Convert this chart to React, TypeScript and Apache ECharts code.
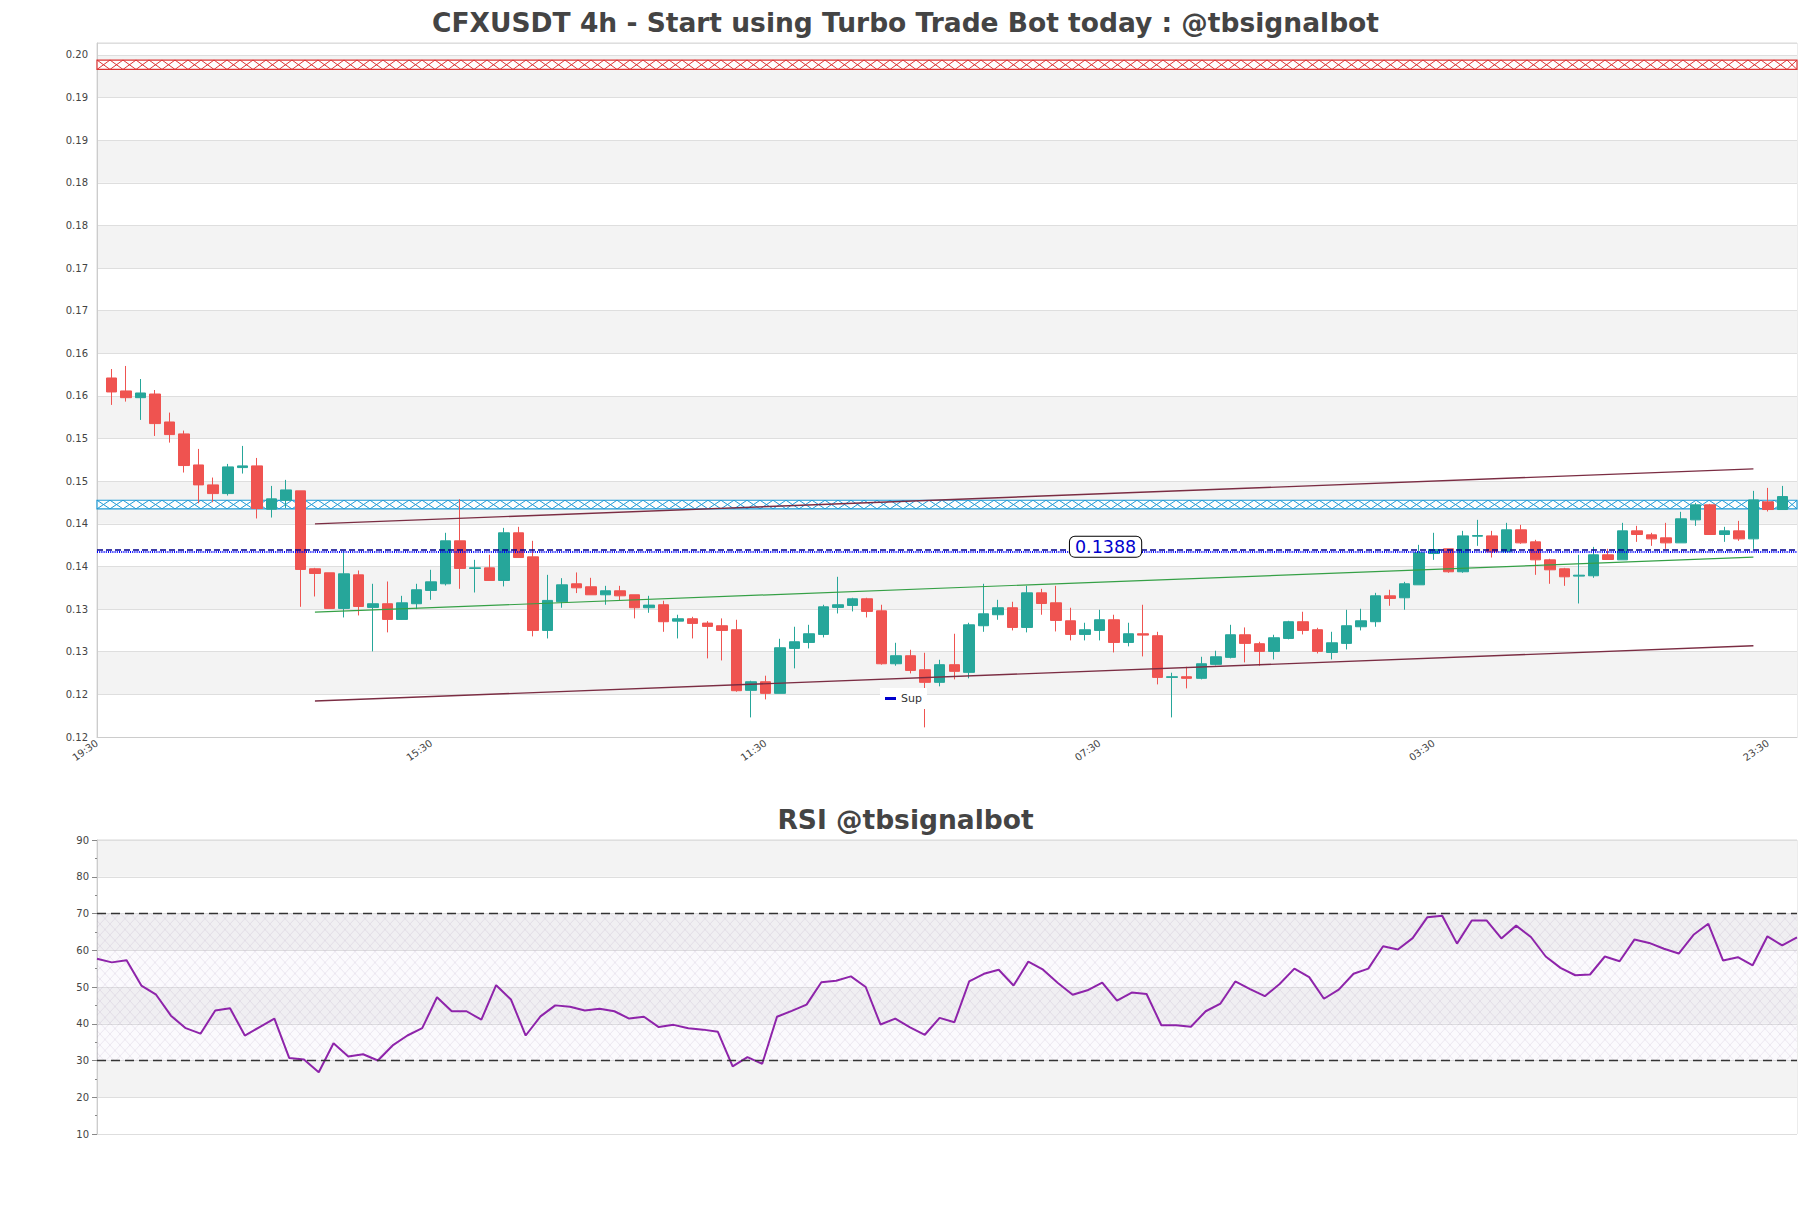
import React, { useEffect, useRef } from 'react';
import * as echarts from 'echarts';

// ---------- data ----------
const OPEN = [
  0.16211, 0.16059, 0.1598, 0.16023, 0.15695, 0.15555, 0.15191, 0.14957, 0.14855, 0.1516,
  0.1518, 0.14672, 0.14777, 0.14887, 0.13973, 0.13926, 0.13508, 0.13902, 0.1352, 0.13563,
  0.13379, 0.13563, 0.13719, 0.13797, 0.14301, 0.13977, 0.13984, 0.13836, 0.14395, 0.14113,
  0.1325, 0.13586, 0.13797, 0.13762, 0.13668, 0.13715, 0.13668, 0.13516, 0.13551, 0.13359,
  0.13387, 0.13336, 0.13305, 0.13258, 0.12547, 0.12648, 0.12512, 0.13039, 0.13109, 0.13203,
  0.1352, 0.13543, 0.13621, 0.1348, 0.12859, 0.12953, 0.12789, 0.12641, 0.12848, 0.12758,
  0.13305, 0.13434, 0.13516, 0.13285, 0.13691, 0.13574, 0.13363, 0.13203, 0.1325, 0.13375,
  0.13109, 0.13211, 0.13188, 0.12699, 0.12707, 0.12688, 0.12852, 0.12934, 0.13199, 0.13094,
  0.13004, 0.13156, 0.13352, 0.13258, 0.12992, 0.13098, 0.13293, 0.13352, 0.13656, 0.13633,
  0.13785, 0.14152, 0.14207, 0.13938, 0.14355, 0.14359, 0.14172, 0.1443, 0.14289, 0.14078,
  0.13973, 0.13887, 0.13891, 0.14137, 0.14078, 0.14418, 0.14371, 0.14336, 0.14277, 0.14547,
  0.14723, 0.14375, 0.14418, 0.14324, 0.14758, 0.14668,
];
const CLOSE = [
  0.16047, 0.1598, 0.16035, 0.15676, 0.15547, 0.15184, 0.14957, 0.14855, 0.15168, 0.1518,
  0.1468, 0.14793, 0.14898, 0.13965, 0.13918, 0.13508, 0.13914, 0.13531, 0.13563, 0.13379,
  0.13574, 0.13727, 0.1382, 0.14301, 0.13977, 0.13984, 0.13836, 0.14395, 0.14105, 0.1325,
  0.13602, 0.13785, 0.1375, 0.13668, 0.13715, 0.13656, 0.13516, 0.13547, 0.13352, 0.13387,
  0.13332, 0.13297, 0.1325, 0.12543, 0.12648, 0.12512, 0.13047, 0.13117, 0.13211, 0.13527,
  0.13551, 0.13621, 0.13473, 0.12859, 0.12953, 0.12781, 0.12641, 0.12848, 0.1277, 0.13316,
  0.13445, 0.13516, 0.13285, 0.13691, 0.13566, 0.13367, 0.13203, 0.13258, 0.13375, 0.13109,
  0.13211, 0.13195, 0.12699, 0.12707, 0.12688, 0.12859, 0.12941, 0.13199, 0.13098, 0.13004,
  0.13164, 0.13352, 0.1325, 0.13004, 0.13105, 0.13305, 0.13363, 0.13656, 0.13625, 0.13797,
  0.1416, 0.14199, 0.13938, 0.14359, 0.14363, 0.14172, 0.1443, 0.14277, 0.14078, 0.13961,
  0.13879, 0.13898, 0.14137, 0.14082, 0.14418, 0.14375, 0.14324, 0.14277, 0.14559, 0.14723,
  0.14375, 0.14418, 0.14324, 0.14781, 0.14668, 0.1482,
];
const LOW = [
  0.15895, 0.15934, 0.15719, 0.15531, 0.15453, 0.15102, 0.14742, 0.14754, 0.14832, 0.1509,
  0.14563, 0.14574, 0.14684, 0.13527, 0.13648, 0.13508, 0.13402, 0.13426, 0.13004, 0.13227,
  0.13375, 0.135, 0.13609, 0.13777, 0.13738, 0.13695, 0.13836, 0.13766, 0.14105, 0.1318,
  0.13156, 0.13516, 0.13688, 0.13668, 0.13551, 0.13598, 0.13391, 0.13457, 0.13234, 0.13156,
  0.13156, 0.12922, 0.12898, 0.12531, 0.1223, 0.12441, 0.12512, 0.12805, 0.13039, 0.13168,
  0.13449, 0.13473, 0.13402, 0.12848, 0.12836, 0.12746, 0.12113, 0.12594, 0.12676, 0.12688,
  0.13234, 0.13375, 0.1325, 0.13227, 0.13434, 0.13238, 0.13133, 0.13133, 0.13133, 0.12992,
  0.13063, 0.12945, 0.12617, 0.1223, 0.1257, 0.12676, 0.1284, 0.12922, 0.12875, 0.12836,
  0.1291, 0.13145, 0.13203, 0.1298, 0.1291, 0.13027, 0.1325, 0.13293, 0.13539, 0.13492,
  0.13785, 0.14078, 0.13926, 0.13926, 0.14242, 0.14105, 0.14172, 0.14266, 0.13902, 0.13797,
  0.13773, 0.13566, 0.13867, 0.14082, 0.14078, 0.14289, 0.14242, 0.14207, 0.14277, 0.14477,
  0.14375, 0.14289, 0.14301, 0.14207, 0.14645, 0.14668,
];
const HIGH = [
  0.16316, 0.16352, 0.16199, 0.1607, 0.15805, 0.15594, 0.15379, 0.15043, 0.15203, 0.15414,
  0.15273, 0.14945, 0.15016, 0.14887, 0.13984, 0.13926, 0.14184, 0.13953, 0.13797, 0.13824,
  0.13656, 0.13797, 0.13961, 0.14395, 0.14789, 0.14078, 0.14137, 0.14453, 0.14465, 0.14301,
  0.13902, 0.13863, 0.1393, 0.13867, 0.13773, 0.13773, 0.13668, 0.13656, 0.13598, 0.13434,
  0.1341, 0.13359, 0.13391, 0.13375, 0.1266, 0.12719, 0.13152, 0.13293, 0.13316, 0.13551,
  0.13879, 0.13633, 0.13633, 0.13551, 0.13105, 0.13023, 0.12988, 0.12906, 0.13211, 0.1334,
  0.13797, 0.13609, 0.13586, 0.13773, 0.13738, 0.13773, 0.13516, 0.1334, 0.13492, 0.13434,
  0.1334, 0.13551, 0.13234, 0.12754, 0.12824, 0.12941, 0.13012, 0.13316, 0.13285, 0.13117,
  0.13199, 0.13363, 0.13469, 0.13281, 0.13234, 0.13492, 0.13504, 0.13691, 0.13727, 0.1382,
  0.14254, 0.14395, 0.14207, 0.14418, 0.14547, 0.14418, 0.14512, 0.14488, 0.14313, 0.1409,
  0.13984, 0.14137, 0.1423, 0.14207, 0.14512, 0.14477, 0.14395, 0.14512, 0.14641, 0.14746,
  0.14734, 0.14465, 0.14535, 0.14887, 0.14922, 0.14945,
];
const RSI = [
  57.7, 56.7, 57.3, 50.4, 47.9, 42.2, 38.8, 37.3, 43.6, 44.2,
  36.8, 39.1, 41.4, 30.7, 30.3, 26.8, 34.7, 31.1, 31.7, 30.0,
  34.1, 36.8, 38.8, 47.2, 43.4, 43.4, 41.1, 50.5, 46.6, 36.8,
  42.0, 45.0, 44.6, 43.6, 44.1, 43.4, 41.4, 41.9, 39.1, 39.7,
  38.8, 38.4, 37.8, 28.4, 30.9, 29.1, 41.9, 43.5, 45.2, 51.3,
  51.7, 52.9, 50.0, 39.8, 41.4, 39.0, 37.0, 41.6, 40.4, 51.5,
  53.6, 54.7, 50.4, 56.9, 54.7, 51.1, 47.9, 49.1, 51.2, 46.3,
  48.5, 48.1, 39.6, 39.6, 39.2, 43.4, 45.5, 51.5, 49.4, 47.5,
  50.8, 55.0, 52.7, 46.8, 49.3, 53.6, 55.0, 61.1, 60.2, 63.3,
  69.0, 69.4, 61.8, 68.1, 68.1, 63.2, 66.7, 63.6, 58.3, 55.2,
  53.2, 53.4, 58.3, 57.0, 62.9, 62.0, 60.4, 59.1, 64.2, 67.2,
  57.2, 58.1, 55.9, 63.8, 61.3, 63.5,
];

// 4h candles, first category is an empty pad slot at 19:30, one empty pad at the end
const FIRST_TIME_MIN = 19 * 60 + 30;
const STEP_MIN = 240;
const N_CATS = OPEN.length + 2;
const TIMES = Array.from({ length: N_CATS }, (_, k) => {
  const m = (FIRST_TIME_MIN + k * STEP_MIN) % 1440;
  return String(Math.floor(m / 60)).padStart(2, '0') + ':' + String(m % 60).padStart(2, '0');
});

// levels
const RES_BAND = [0.1983, 0.1994];
const SUP_BAND = [0.14676, 0.14777];
const SUP_DASHED = 0.14195;
const SUP_DOTTED = 0.14168;
const SUP_LABEL_TEXT = '0.1388';
const SUP_LABEL_CAT = 69;
const TREND_UPPER = [[15, 0.145], [114, 0.15145]];
const TREND_MID = [[15, 0.13465], [114, 0.14109]];
const TREND_LOWER = [[15, 0.12422], [114, 0.1307]];
const RSI_LEVELS = [30, 70];

const UP = '#26a69a';
const DOWN = '#ef5350';

function makeHatch(w: number, h: number, bg: string, line: string) {
  const c = document.createElement('canvas');
  c.width = w;
  c.height = h;
  const g = c.getContext('2d')!;
  g.fillStyle = bg;
  g.fillRect(0, 0, w, h);
  g.strokeStyle = line;
  g.lineWidth = 0.7;
  g.beginPath();
  g.moveTo(0, 0);
  g.lineTo(w, h);
  g.moveTo(w, 0);
  g.lineTo(0, h);
  g.stroke();
  return c.toDataURL();
}

const bandRenderer = (color: string) => (params: any, api: any) => {
  const cs = params.coordSys;
  const yTop = api.coord([0, api.value(2)])[1];
  const yBot = api.coord([0, api.value(1)])[1];
  const x0 = cs.x;
  const x1 = cs.x + cs.width;
  const w = 13;
  const a: number[][] = [];
  const b: number[][] = [];
  let k = 0;
  for (let x = x0; x < x1 + w; x += w, k++) {
    const xx = Math.min(x, x1);
    a.push([xx, k % 2 === 0 ? yTop : yBot]);
    b.push([xx, k % 2 === 0 ? yBot : yTop]);
    if (xx >= x1) break;
  }
  return {
    type: 'group',
    children: [
      { type: 'rect', shape: { x: x0, y: yTop, width: cs.width, height: yBot - yTop }, style: { fill: 'rgba(255,255,255,0.85)', stroke: color, lineWidth: 1.2 } },
      { type: 'polyline', shape: { points: a }, style: { stroke: color, fill: null, lineWidth: 1 } },
      { type: 'polyline', shape: { points: b }, style: { stroke: color, fill: null, lineWidth: 1 } },
    ],
  };
};

export default function App() {
  const ref = useRef<HTMLDivElement>(null);
  useEffect(() => {
    if (!ref.current) return;
    const chart = echarts.init(ref.current, undefined, { renderer: 'svg' });
    const candleData = [
      ['-', '-', '-', '-'],
      ...OPEN.map((o, i) => [o, CLOSE[i], LOW[i], HIGH[i]]),
      ['-', '-', '-', '-'],
    ];
    const rsiHatch = makeHatch(10, 11, 'rgba(205,185,225,0.08)', 'rgba(150,125,170,0.22)');
    const trendLine = (pts: number[][], color: string, width: number) => [
      { coord: pts[0], lineStyle: { color, width, type: 'solid' } },
      { coord: pts[1] },
    ];
    const axisText = { color: '#444', fontSize: 10, fontFamily: 'DejaVu Sans' };
    const option: any = {
      animation: false,
      backgroundColor: '#fff',
      textStyle: { fontFamily: 'DejaVu Sans' },
      title: [
        {
          text: 'CFXUSDT 4h - Start using Turbo Trade Bot today : @tbsignalbot',
          left: 'center',
          top: 4,
          textStyle: { fontSize: 26.5, fontWeight: 'bold', color: '#444', fontFamily: 'DejaVu Sans' },
        },
        {
          text: 'RSI @tbsignalbot',
          left: 'center',
          top: 801,
          textStyle: { fontSize: 26.5, fontWeight: 'bold', color: '#444', fontFamily: 'DejaVu Sans' },
        },
      ],
      legend: {
        data: ['Sup'],
        left: 880,
        top: 688,
        backgroundColor: '#fff',
        icon: 'rect',
        itemWidth: 11,
        itemHeight: 3,
        textStyle: { fontSize: 11, color: '#333' },
      },
      grid: [
        { left: 97, right: 14, top: 43, bottom: 471, show: true, borderColor: '#d9d9d9', borderWidth: 1 },
        { left: 97, right: 14, top: 840, bottom: 74, show: true, borderColor: '#d9d9d9', borderWidth: 1 },
      ],
      xAxis: [
        {
          type: 'category',
          gridIndex: 0,
          data: TIMES,
          boundaryGap: false,
          axisLine: { lineStyle: { color: '#ccc' } },
          axisTick: { show: false },
          axisLabel: { ...axisText, interval: 22, rotate: 35, margin: 5 },
          splitLine: { show: false },
        },
        {
          type: 'category',
          gridIndex: 1,
          data: TIMES.slice(1, N_CATS - 1),
          boundaryGap: false,
          axisLine: { show: false },
          axisTick: { show: false },
          axisLabel: { show: false },
          splitLine: { show: false },
        },
      ],
      yAxis: [
        {
          type: 'value',
          gridIndex: 0,
          min: 0.12,
          max: 0.2014,
          interval: 0.005,
          axisLine: { show: true, lineStyle: { color: '#ccc' } },
          axisTick: { show: false },
          axisLabel: {
            ...axisText,
            margin: 9,
            showMaxLabel: false,
            formatter: (v: number) => (Math.floor(v * 100 + 1e-6) / 100).toFixed(2),
          },
          splitLine: { lineStyle: { color: '#dedede' } },
          splitArea: { show: true, areaStyle: { color: ['#ffffff', '#f3f3f3'] } },
        },
        {
          type: 'value',
          gridIndex: 1,
          min: 10,
          max: 90,
          interval: 10,
          axisLine: { show: true, lineStyle: { color: '#ccc' } },
          axisTick: { show: true, length: 5, lineStyle: { color: '#888' } },
          minorTick: { show: true, splitNumber: 2, length: 2, lineStyle: { color: '#888' } },
          axisLabel: { ...axisText, margin: 8 },
          splitLine: { lineStyle: { color: '#dedede' } },
          splitArea: { show: true, areaStyle: { color: ['#ffffff', '#f3f3f3'] } },
        },
      ],
      series: [
        {
          name: 'Res',
          type: 'custom',
          xAxisIndex: 0,
          yAxisIndex: 0,
          silent: true,
          data: [[0, RES_BAND[0], RES_BAND[1]]],
          encode: { x: 0, y: [1, 2] },
          renderItem: bandRenderer('#dd3333'),
        },
        {
          name: 'SupBand',
          type: 'custom',
          xAxisIndex: 0,
          yAxisIndex: 0,
          silent: true,
          data: [[0, SUP_BAND[0], SUP_BAND[1]]],
          encode: { x: 0, y: [1, 2] },
          renderItem: bandRenderer('#1e9ad6'),
        },
        {
          name: 'CFXUSDT',
          type: 'candlestick',
          xAxisIndex: 0,
          yAxisIndex: 0,
          barWidth: 11,
          data: candleData,
          itemStyle: { color: UP, color0: DOWN, borderColor: UP, borderColor0: DOWN, borderWidth: 1 },
        },
        {
          name: 'Trend',
          type: 'line',
          xAxisIndex: 0,
          yAxisIndex: 0,
          data: [],
          silent: true,
          markLine: {
            symbol: ['none', 'none'],
            silent: true,
            precision: 6,
            label: { show: false },
            data: [
              trendLine(TREND_UPPER, '#7b2d43', 1.4),
              trendLine(TREND_LOWER, '#7b2d43', 1.4),
              trendLine(TREND_MID, '#35a046', 1.2),
            ],
          },
        },
        {
          name: 'Sup',
          type: 'line',
          xAxisIndex: 0,
          yAxisIndex: 0,
          data: [],
          color: '#0000cd',
          markLine: {
            symbol: ['none', 'none'],
            silent: true,
            precision: 6,
            label: { show: false },
            data: [
              { yAxis: SUP_DASHED, lineStyle: { color: '#00008b', width: 1.5, type: [6, 3] } },
              { yAxis: SUP_DOTTED, lineStyle: { color: '#0000ff', width: 2, type: [1, 1.2] } },
            ],
          },
          markPoint: {
            symbol: 'rect',
            symbolSize: 1,
            silent: true,
            itemStyle: { color: 'rgba(0,0,0,0)' },
            label: {
              show: true,
              position: 'inside',
              offset: [6, -3],
              formatter: SUP_LABEL_TEXT,
              color: '#0000cd',
              fontSize: 17.5,
              backgroundColor: '#fff',
              borderColor: '#000',
              borderWidth: 1,
              borderRadius: 5,
              padding: [1, 5],
            },
            data: [{ coord: [SUP_LABEL_CAT, SUP_DASHED] }],
          },
        },
        {
          name: 'RSI',
          type: 'line',
          xAxisIndex: 1,
          yAxisIndex: 1,
          data: RSI,
          symbol: 'none',
          lineStyle: { color: '#8e24aa', width: 2 },
          itemStyle: { color: '#8e24aa' },
          markArea: {
            silent: true,
            itemStyle: { color: { image: rsiHatch, repeat: 'repeat', imageWidth: 10, imageHeight: 11 } },
            data: [[{ yAxis: RSI_LEVELS[0] }, { yAxis: RSI_LEVELS[1] }]],
          },
          markLine: {
            symbol: ['none', 'none'],
            silent: true,
            label: { show: false },
            lineStyle: { color: '#333', width: 1.3, type: [9, 5] },
            data: RSI_LEVELS.map((v) => ({ yAxis: v })),
          },
        },
      ],
    };
    chart.setOption(option);
    return () => chart.dispose();
  }, []);
  return (
    <div
      ref={ref}
      style={{ position: 'absolute', left: 0, top: 0, width: 1811, height: 1208, background: '#fff' }}
    />
  );
}
